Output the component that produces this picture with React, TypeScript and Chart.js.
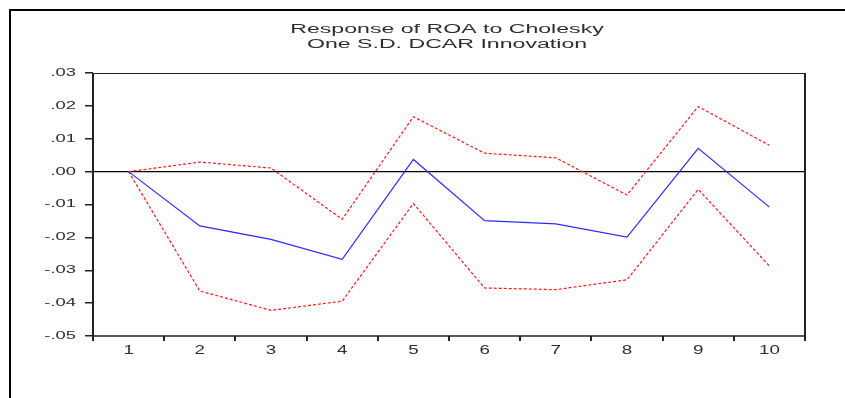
import React, { useEffect, useRef } from 'react';
import { Chart, registerables } from 'chart.js';

Chart.register(...registerables);

const CATEGORIES = ['1', '2', '3', '4', '5', '6', '7', '8', '9', '10'];
const RESPONSE = [0, -0.0165, -0.0206, -0.0267, 0.0037, -0.0149, -0.0159, -0.0199, 0.0071, -0.0108];
const UPPER_BAND = [0, 0.0029, 0.0011, -0.0145, 0.0167, 0.0056, 0.0042, -0.0071, 0.0198, 0.008];
const LOWER_BAND = [0, -0.0363, -0.0422, -0.0394, -0.0097, -0.0354, -0.0359, -0.0329, -0.0054, -0.0287];
const Y_MIN = -0.05;
const Y_MAX = 0.03;
const Y_STEP = 0.01;
const TITLE_LINES = ['Response of ROA to Cholesky', 'One S.D. DCAR Innovation'];

const FONT = "'Liberation Sans', Arial, sans-serif";
const TEXT_COLOR = '#2e2e2e';
const AXIS_COLOR = '#222222';
const Y_SX = 1.75;
const X_SX = 1.5;
const TITLE_SX = 1.85;

function formatTick(v: number): string {
  const s = Number(v).toFixed(2);
  if (s === '-0.00') return '.00';
  return s.replace('0.', '.');
}

const stretchPlugin = {
  id: 'stretchText',
  beforeDraw(chart: any) {
    const ctx = chart.ctx as any;
    if (ctx.__origFillText) return;
    const orig = ctx.fillText;
    ctx.__origFillText = orig;
    ctx.fillText = function (t: any, x: number, y: number) {
      const s = String(t);
      const sx = /^-?\./.test(s) ? Y_SX : /^\d+$/.test(s) ? X_SX : 1;
      if (sx === 1) return orig.call(this, t, x, y);
      this.save();
      this.translate(x, y);
      this.scale(sx, 1);
      orig.call(this, t, 0, 0);
      this.restore();
    };
  },
  beforeDatasetsDraw(chart: any) {
    const { ctx, chartArea } = chart;
    const y0 = chart.scales.y.getPixelForValue(0);
    ctx.save();
    ctx.strokeStyle = '#000000';
    ctx.lineWidth = 1.2;
    ctx.beginPath();
    ctx.moveTo(chartArea.left, y0);
    ctx.lineTo(chartArea.right, y0);
    ctx.stroke();
    ctx.restore();
  },
  afterDatasetsDraw(chart: any) {
    const { ctx, chartArea } = chart;
    const { left, right, top, bottom } = chartArea;
    ctx.save();
    ctx.strokeStyle = AXIS_COLOR;
    ctx.lineWidth = 1;
    ctx.beginPath();
    ctx.moveTo(left, top + 0.5);
    ctx.lineTo(right, top + 0.5);
    ctx.stroke();
    ctx.lineWidth = 1.5;
    ctx.beginPath();
    ctx.moveTo(left, bottom);
    ctx.lineTo(right, bottom);
    ctx.stroke();
    ctx.lineWidth = 2;
    ctx.beginPath();
    ctx.moveTo(left, top);
    ctx.lineTo(left, bottom + 0.75);
    ctx.moveTo(right, top);
    ctx.lineTo(right, bottom + 0.75);
    ctx.stroke();
    ctx.restore();
  },
  afterDraw(chart: any) {
    const ctx = chart.ctx as any;
    const orig = ctx.__origFillText;
    if (orig) {
      ctx.fillText = orig;
      delete ctx.__origFillText;
    }
    const { chartArea } = chart;
    const cx = (chartArea.left + chartArea.right) / 2 - 2;
    ctx.save();
    ctx.fillStyle = TEXT_COLOR;
    ctx.font = `12.5px ${FONT}`;
    ctx.textAlign = 'center';
    ctx.textBaseline = 'alphabetic';
    const baselines = [32.5, 47.5];
    TITLE_LINES.forEach((line, i) => {
      ctx.save();
      ctx.translate(cx, baselines[i]);
      ctx.scale(TITLE_SX, 1);
      ctx.fillText(line, 0, 0);
      ctx.restore();
    });
    ctx.restore();
  },
};

export default function App() {
  const canvasRef = useRef<HTMLCanvasElement | null>(null);

  useEffect(() => {
    const canvas = canvasRef.current;
    if (!canvas) return;
    const chart = new Chart(canvas, {
      type: 'line',
      data: {
        labels: CATEGORIES,
        datasets: [
          {
            label: 'Response',
            data: RESPONSE,
            borderColor: '#2b2bff',
            borderWidth: 1.2,
            pointRadius: 0,
            tension: 0,
            fill: false,
          },
          {
            label: 'Upper',
            data: UPPER_BAND,
            borderColor: '#ff1a1a',
            borderWidth: 1.2,
            borderDash: [3, 2],
            pointRadius: 0,
            tension: 0,
            fill: false,
          },
          {
            label: 'Lower',
            data: LOWER_BAND,
            borderColor: '#ff1a1a',
            borderWidth: 1.2,
            borderDash: [3, 2],
            pointRadius: 0,
            tension: 0,
            fill: false,
          },
        ],
      },
      options: {
        animation: false,
        responsive: false,
        devicePixelRatio: 1,
        events: [],
        layout: { padding: { top: 73, right: 40, bottom: 0, left: 0 } },
        plugins: {
          legend: { display: false },
          tooltip: { enabled: false },
          title: { display: false },
        },
        scales: {
          x: {
            type: 'category',
            offset: true,
            afterFit: (s: any) => {
              s.height = 62;
            },
            border: { display: false },
            grid: {
              offset: true,
              drawOnChartArea: false,
              drawTicks: true,
              tickLength: 5,
              color: AXIS_COLOR,
              lineWidth: 2,
            },
            ticks: {
              padding: 2,
              color: TEXT_COLOR,
              font: { family: FONT, size: 12.5 },
              maxRotation: 0,
              autoSkip: false,
            },
          },
          y: {
            type: 'linear',
            min: Y_MIN,
            max: Y_MAX,
            afterFit: (s: any) => {
              s.width = 93;
            },
            border: { display: false },
            grid: {
              drawOnChartArea: false,
              drawTicks: true,
              tickLength: 8,
              color: AXIS_COLOR,
              lineWidth: 1.5,
            },
            ticks: {
              stepSize: Y_STEP,
              padding: 9,
              color: TEXT_COLOR,
              font: { family: FONT, size: 10.5 },
              callback: (v: any) => formatTick(Number(v)),
            },
          },
        },
      },
      plugins: [stretchPlugin],
    });
    return () => {
      chart.destroy();
    };
  }, []);

  return (
    <div
      style={{
        position: 'fixed',
        left: 0,
        top: 0,
        width: 845,
        height: 398,
        overflow: 'hidden',
        background: '#ffffff',
      }}
    >
      <div
        style={{
          position: 'absolute',
          left: 9,
          top: 9,
          width: 900,
          height: 500,
          borderLeft: '2px solid #000',
          borderTop: '2px solid #000',
        }}
      />
      <canvas
        ref={canvasRef}
        width={845}
        height={398}
        style={{ position: 'absolute', left: 0, top: 0, width: 845, height: 398 }}
      />
    </div>
  );
}
